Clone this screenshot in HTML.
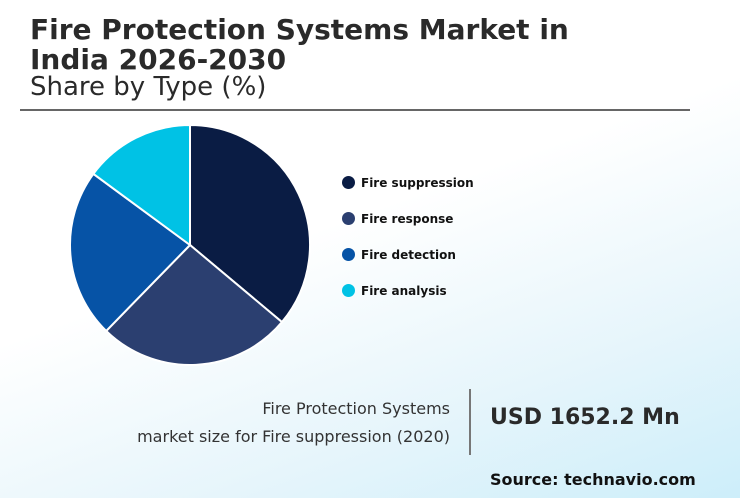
<!DOCTYPE html>
<html><head><meta charset="utf-8"><style>
html,body{margin:0;padding:0}
body{width:740px;height:498px;overflow:hidden;position:relative;font-family:"DejaVu Sans","Liberation Sans",sans-serif;background:linear-gradient(160deg,#ffffff 0%,#ffffff 45%,#e6f5fb 75%,#cdeefa 100%);color:#222}
.t{position:absolute;left:30px;font-weight:bold;font-size:28px;line-height:30px;color:#2a2a2a}
.sub{position:absolute;left:30px;top:72px;font-size:26px;color:#2a2a2a}
.rule{position:absolute;left:20px;top:109px;width:670px;height:2px;background:#666}
.leg{position:absolute;left:342px;font-size:12px;font-weight:bold;color:#111}
.leg span{display:inline-block;width:13px;height:13px;border-radius:50%;vertical-align:middle;margin-right:6px;position:relative;top:-1px}
.cap{position:absolute;right:290px;font-size:16px;color:#333;text-align:right}
.vline{position:absolute;left:469px;top:389px;width:2px;height:66px;background:#777}
.val{position:absolute;left:490px;top:405px;font-size:22px;font-weight:bold;color:#2a2a2a}
.src{position:absolute;left:490px;top:470px;font-size:16px;font-weight:bold;color:#111}
</style></head><body>
<div class="t" style="top:15px">Fire Protection Systems Market in<br>India 2026-2030</div>
<div class="sub">Share by Type (%)</div>
<div class="rule"></div>
<svg id="pie" width="740" height="498" style="position:absolute;left:0;top:0"></svg>
<div id="legend"></div>
<div class="cap" style="top:399px">Fire Protection Systems</div>
<div class="cap" style="top:427px">market size for Fire suppression (2020)</div>
<div class="vline"></div>
<div class="val">USD 1652.2 Mn</div>
<div class="src">Source: technavio.com</div>
<script>
const categories=["Fire suppression","Fire response","Fire detection","Fire analysis"];
const shares=[36.1,26.2,22.8,14.9];
const colors=["#0a1c44","#2b3f70","#0653a6","#00c2e5"];
const svg=document.getElementById('pie');
const cx=190,cy=245,r=120;
const total=shares.reduce((a,b)=>a+b,0);
let acc=0;
function pt(f){const a=f*2*Math.PI-Math.PI/2;return [cx+r*Math.cos(a),cy+r*Math.sin(a)];}
shares.forEach((v,i)=>{
  const s=acc/total,e=(acc+v)/total;acc+=v;
  const [x1,y1]=pt(s),[x2,y2]=pt(e);
  const p=document.createElementNS('http://www.w3.org/2000/svg','path');
  p.setAttribute('d',`M${cx},${cy}L${x1},${y1}A${r},${r} 0 ${e-s>0.5?1:0} 1 ${x2},${y2}Z`);
  p.setAttribute('fill',colors[i]);p.setAttribute('stroke','#fff');p.setAttribute('stroke-width','2');
  
  
  svg.appendChild(p);
});
const leg=document.getElementById('legend');
categories.forEach((c,i)=>{
  const d=document.createElement('div');d.className='leg';d.style.top=(176+i*36)+'px';
  
  
  d.innerHTML=`<span style="background:${colors[i]}"></span>${c}`;
  leg.appendChild(d);
});
</script>
</body></html>
